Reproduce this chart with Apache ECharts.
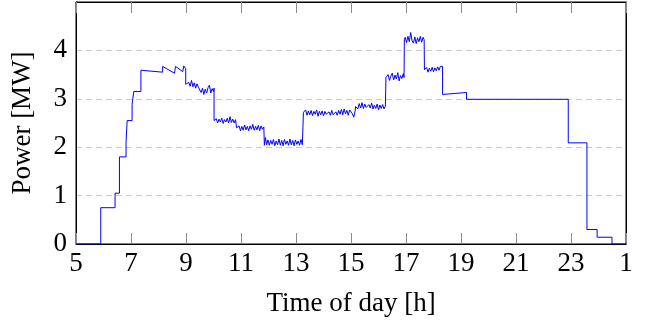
<!DOCTYPE html>
<html>
<head>
<meta charset="utf-8">
<script src="https://cdn.jsdelivr.net/npm/echarts@6/dist/echarts.min.js"></script>
<style>
html,body{margin:0;padding:0;background:#fff;}
#chart{width:646px;height:322px;}
</style>
</head>
<body>
<div id="chart"></div>
<script>
// Time of day [h] (values > 24 are after midnight)
var hours = [
  5.00, 5.90, 5.90, 6.42, 6.42, 6.58, 6.58, 6.82, 6.82, 6.86, 6.86, 7.04, 7.04, 7.10, 7.10, 7.36, 7.36,
  8.15, 8.15, 8.30, 8.58, 8.62, 8.88, 8.92, 8.99, 8.99,
  9.05, 9.10, 9.15, 9.20, 9.25, 9.30, 9.35, 9.40, 9.45, 9.50, 9.55, 9.60, 9.65, 9.70, 9.75, 9.80, 9.85, 9.90, 9.95, 10.00, 10.02, 10.02,
  10.05, 10.10, 10.15, 10.20, 10.25, 10.30, 10.35, 10.40, 10.45, 10.50, 10.55, 10.60, 10.65, 10.70, 10.75, 10.80, 10.84, 10.84,
  10.88, 10.93, 10.98, 11.03, 11.08, 11.13, 11.18, 11.23, 11.28, 11.33, 11.38, 11.43, 11.48, 11.53, 11.58, 11.63, 11.68, 11.73, 11.78, 11.83,
  11.85, 11.89, 11.93, 11.98, 12.03, 12.08, 12.13, 12.18, 12.23, 12.28, 12.33, 12.38, 12.43, 12.48, 12.53, 12.58, 12.63, 12.68, 12.73, 12.78,
  12.83, 12.88, 12.93, 12.98, 13.03, 13.08, 13.13, 13.18, 13.23, 13.27, 13.27,
  13.30, 13.35, 13.40, 13.45, 13.50, 13.55, 13.60, 13.65, 13.70, 13.75, 13.80, 13.85, 13.90, 13.95, 14.00, 14.05, 14.10, 14.15, 14.20,
  14.25, 14.30, 14.35, 14.40, 14.45, 14.50, 14.55, 14.60, 14.65, 14.70, 14.75, 14.80, 14.85, 14.90, 14.95, 15.00, 15.05, 15.10, 15.15, 15.17,
  15.20, 15.25, 15.30, 15.35, 15.40, 15.45, 15.50, 15.55, 15.60, 15.65, 15.70, 15.75, 15.80, 15.85, 15.90, 15.95, 16.00, 16.05, 16.10,
  16.15, 16.20, 16.25, 16.27,
  16.30, 16.35, 16.40, 16.45, 16.50, 16.55, 16.60, 16.65, 16.70, 16.75, 16.80, 16.85, 16.90, 16.93, 16.94,
  16.97, 17.02, 17.07, 17.12, 17.17, 17.22, 17.27, 17.32, 17.37, 17.42, 17.47, 17.52, 17.57, 17.62, 17.66, 17.67,
  17.70, 17.75, 17.80, 17.85, 17.90, 17.95, 18.00, 18.05, 18.10, 18.15, 18.20, 18.25, 18.30, 18.33, 18.33,
  19.20, 19.20, 22.90, 22.90, 23.58, 23.58, 23.95, 23.95, 24.49, 24.49, 25.00
];
// Power [MW]
var power = [
  0.00, 0.00, 0.75, 0.75, 1.05, 1.05, 1.80, 1.80, 2.10, 2.10, 2.55, 2.55, 2.88, 2.88, 3.15, 3.15, 3.59,
  3.55, 3.67, 3.62, 3.53, 3.67, 3.56, 3.68, 3.62, 3.30,
  3.27, 3.34, 3.26, 3.38, 3.25, 3.33, 3.22, 3.31, 3.24, 3.21, 3.13, 3.22, 3.09, 3.20, 3.12, 3.23, 3.28, 3.12, 3.21, 3.15, 3.22, 2.55,
  2.51, 2.59, 2.50, 2.58, 2.52, 2.60, 2.49, 2.57, 2.52, 2.60, 2.50, 2.63, 2.51, 2.58, 2.50, 2.57, 2.53, 2.40,
  2.36, 2.44, 2.34, 2.43, 2.35, 2.46, 2.36, 2.43, 2.34, 2.44, 2.37, 2.47, 2.35, 2.43, 2.36, 2.45, 2.34, 2.44, 2.37, 2.42,
  2.04, 2.20, 2.05, 2.15, 2.04, 2.14, 2.06, 2.16, 2.03, 2.13, 2.05, 2.17, 2.04, 2.14, 2.03, 2.16, 2.06, 2.13, 2.04, 2.17,
  2.05, 2.14, 2.03, 2.15, 2.06, 2.13, 2.04, 2.16, 2.05, 2.03, 2.72,
  2.68, 2.77, 2.66, 2.75, 2.67, 2.76, 2.65, 2.74, 2.68, 2.77, 2.64, 2.74, 2.67, 2.75, 2.65, 2.74, 2.68, 2.64, 2.73,
  2.66, 2.76, 2.67, 2.63, 2.73, 2.66, 2.76, 2.68, 2.78, 2.67, 2.79, 2.69, 2.76, 2.66, 2.77, 2.81, 2.69, 2.62, 2.75, 2.84,
  2.87, 2.79, 2.90, 2.81, 2.92, 2.80, 2.89, 2.82, 2.78, 2.88, 2.81, 2.91, 2.79, 2.87, 2.80, 2.89, 2.77, 2.87, 2.80,
  2.88, 2.79, 2.85, 3.44,
  3.40, 3.50, 3.38, 3.47, 3.53, 3.39, 3.49, 3.41, 3.54, 3.37, 3.48, 3.42, 3.52, 3.44, 4.22,
  4.27, 4.16, 4.29, 4.18, 4.37, 4.20, 4.15, 4.28, 4.14, 4.26, 4.18, 4.29, 4.17, 4.27, 4.22, 3.60,
  3.56, 3.65, 3.55, 3.63, 3.57, 3.65, 3.56, 3.64, 3.58, 3.66, 3.59, 3.67, 3.63, 3.67, 3.09,
  3.13, 2.99, 2.99, 2.09, 2.09, 0.30, 0.30, 0.14, 0.14, 0.00, 0.00
];
var xTickValues = [5, 7, 9, 11, 13, 15, 17, 19, 21, 23, 25];
var xTickLabels = ['5', '7', '9', '11', '13', '15', '17', '19', '21', '23', '1'];
var yTickLabels = ['0', '1', '2', '3', '4'];

var seriesData = hours.map(function (h, i) { return [h, power[i]]; });

var FONT = 'Liberation Serif';
var FS = 27;
var Y_MIN = 0, Y_MAX = 5, TICK_LEN = 11;

var chart = echarts.init(document.getElementById('chart'));
chart.setOption({
  animation: false,
  backgroundColor: '#fff',
  grid: { left: 76, right: 20, top: 2, bottom: 78, show: true, borderColor: '#000', borderWidth: 1, backgroundColor: 'transparent' },
  xAxis: [{
    type: 'value', min: 5, max: 25, interval: 2, position: 'bottom',
    name: 'Time of day [h]', nameLocation: 'middle', nameGap: 46,
    nameTextStyle: { fontFamily: FONT, fontSize: FS, color: '#000' },
    axisLine: { show: true, onZero: false, lineStyle: { color: '#000', width: 1 } },
    axisTick: { show: false },
    axisLabel: { margin: 6, fontFamily: FONT, fontSize: FS, color: '#000',
      formatter: function (v) { return xTickLabels[Math.round((v - 5) / 2)]; } },
    splitLine: { show: false }
  }, {
    type: 'value', min: 5, max: 25, interval: 2, position: 'top',
    axisLine: { show: true, onZero: false, lineStyle: { color: '#000', width: 1 } },
    axisTick: { show: false }, axisLabel: { show: false }, splitLine: { show: false }
  }],
  yAxis: [{
    type: 'value', min: Y_MIN, max: Y_MAX, interval: 1, position: 'left',
    name: 'Power [MW]', nameLocation: 'middle', nameGap: 40, nameRotate: 90,
    nameTextStyle: { fontFamily: FONT, fontSize: FS, color: '#000' },
    axisLine: { show: true, onZero: false, lineStyle: { color: '#000', width: 1 } },
    axisTick: { show: false },
    axisLabel: { margin: 9, fontFamily: FONT, fontSize: FS, color: '#000',
      formatter: function (v) { return v < 5 ? yTickLabels[v] : ''; } },
    splitLine: { show: true, lineStyle: { color: '#cbcbcb', width: 1, type: [6, 4] } }
  }, {
    type: 'value', min: Y_MIN, max: Y_MAX, interval: 1, position: 'right',
    axisLine: { show: true, onZero: false, lineStyle: { color: '#000', width: 1 } },
    axisTick: { show: false }, axisLabel: { show: false }, splitLine: { show: false }
  }],
  series: [{
    // inward tick marks on the top and bottom frame, positioned through the x scale
    type: 'custom', xAxisIndex: 0, yAxisIndex: 0, silent: true, clip: false, z: 3,
    data: xTickValues.map(function (v) { return [v, Y_MIN]; }),
    encode: { x: 0, y: 1 },
    renderItem: function (params, api) {
      var v = api.value(0);
      var b = api.coord([v, Y_MIN]);
      var t = api.coord([v, Y_MAX]);
      var x = Math.round(b[0]) + 0.5;
      var st = { stroke: '#8a8a8a', lineWidth: 1 };
      return { type: 'group', children: [
        { type: 'line', shape: { x1: x, y1: b[1], x2: x, y2: b[1] - TICK_LEN }, style: st },
        { type: 'line', shape: { x1: x, y1: t[1], x2: x, y2: t[1] + TICK_LEN }, style: st }
      ] };
    }
  }, {
    type: 'line', xAxisIndex: 0, yAxisIndex: 0,
    data: seriesData, showSymbol: false, symbol: 'none',
    lineStyle: { color: '#0000ff', width: 1 }, z: 10
  }]
});
</script>
</body>
</html>
